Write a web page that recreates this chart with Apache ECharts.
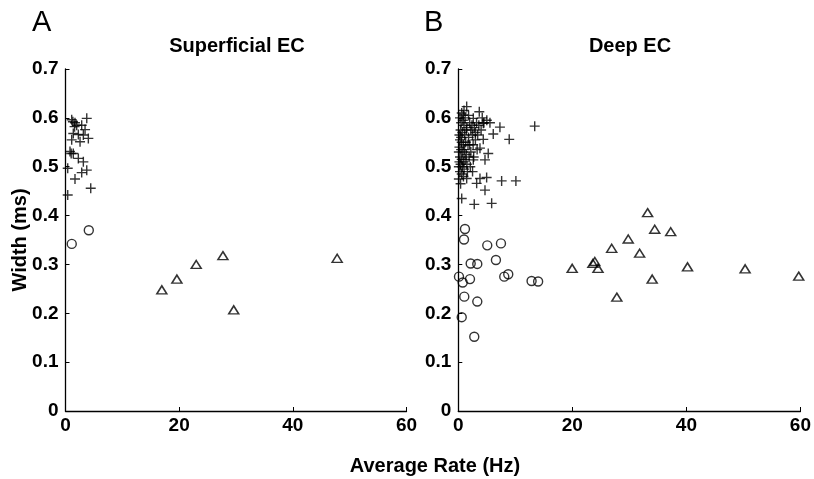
<!DOCTYPE html>
<html><head><meta charset="utf-8">
<script src="https://cdn.jsdelivr.net/npm/echarts@6/dist/echarts.min.js"></script>
<style>html,body{margin:0;padding:0;background:#fff}#c{width:814px;height:479px}</style>
</head><body><div id="c"></div>
<script>
// ---- Data (Average Rate Hz, Width ms) ----
const panelTitles = ['Superficial EC', 'Deep EC'];
const panelLetters = ['A', 'B'];
const xTicks = [0, 20, 40, 60];
const yTicks = [0, 0.1, 0.2, 0.3, 0.4, 0.5, 0.6, 0.7];

const supCross = [[3.74,0.599],[1.09,0.596],[1.67,0.590],[1.97,0.585],[2.85,0.585],[3.44,0.576],[1.37,0.568],[2.26,0.566],[3.14,0.565],[4.02,0.558],[1.09,0.555],[2.56,0.551],[0.79,0.531],[1.37,0.527],[2.26,0.517],[3.14,0.510],[0.39,0.497],[3.74,0.493],[2.85,0.488],[1.67,0.475],[4.44,0.456],[0.39,0.442],[1.3,0.592],[1.6,0.582],[1.0,0.527]];
const supCircle = [[1.1,0.342],[4.1,0.370]];
const supTri = [[16.95,0.248],[19.6,0.270],[23.0,0.300],[27.7,0.318],[29.6,0.207],[47.8,0.3125]];

const deepCross = [[1.47,0.623],[3.68,0.6125],[0.88,0.606],[2.63,0.599],[4.38,0.589],[5.55,0.590],[7.3,0.581],[6.13,0.567],[8.93,0.556],[4.38,0.556],[3.8,0.538],[5.25,0.527],[4.68,0.514],[2.63,0.514],[1.47,0.476],[3.8,0.476],[4.97,0.478],[7.6,0.471],[10.1,0.471],[3.22,0.466],[4.68,0.452],[0.6,0.435],[2.8,0.423],[5.85,0.425],[13.4,0.583],
[0.3,0.60],[0.5,0.59],[0.8,0.595],[1.0,0.585],[1.2,0.60],[0.4,0.575],[0.7,0.57],[1.1,0.565],[1.5,0.58],[2.0,0.59],[2.4,0.585],[2.8,0.58],[3.2,0.59],[3.6,0.585],[3.0,0.57],[2.5,0.565],[1.8,0.56],[0.3,0.555],[0.6,0.55],[0.9,0.545],[1.3,0.55],[1.7,0.545],[0.2,0.54],[0.5,0.535],[0.8,0.53],[1.1,0.535],[1.4,0.525],[0.3,0.52],[0.6,0.515],[0.9,0.51],[1.2,0.515],[0.4,0.505],[0.7,0.50],[1.0,0.495],[0.3,0.49],[0.6,0.485],[0.9,0.48],[1.5,0.505],[1.9,0.52],[2.2,0.53],[2.6,0.545],[3.0,0.555],[3.4,0.565],[4.0,0.575],[2.1,0.50],[2.5,0.49],[1.6,0.49],[0.2,0.565],[0.5,0.56],[1.4,0.575],[2.2,0.575],[4.5,0.59],[5.0,0.595],[4.2,0.60],[1.8,0.605],[0.6,0.61],[1.0,0.615],[0.2,0.51],[0.4,0.465],[2.0,0.545],[2.7,0.52],[3.3,0.535],[0.1,0.53],[0.1,0.50],[0.1,0.475]];
const deepCircle = [[1.17,0.3725],[1.0,0.351],[5.08,0.339],[7.48,0.343],[6.6,0.309],[2.17,0.302],[3.33,0.301],[0.12,0.275],[0.77,0.263],[2.05,0.270],[8.06,0.275],[8.76,0.280],[12.85,0.266],[14.0,0.265],[1.05,0.234],[3.33,0.224],[0.6,0.192],[2.8,0.152]];
const deepTri = [[33.2,0.406],[34.45,0.372],[37.25,0.367],[29.8,0.352],[26.9,0.333],[31.8,0.323],[23.94,0.306],[24.5,0.292],[23.6,0.302],[19.97,0.292],[40.2,0.295],[50.3,0.291],[59.7,0.276],[34.0,0.270],[27.8,0.233]];

const FONT = '"Liberation Sans", Arial, Helvetica, sans-serif';
const crossPath = 'path://M5,0L5,10M0,5L10,5';
const grids = [
  {left: 65.5, top: 69, width: 341, height: 342},
  {left: 458.3, top: 69, width: 342.7, height: 342}
];
function xAx(i){return {gridIndex:i,type:'value',min:0,max:60,interval:20,
  axisLine:{show:true,lineStyle:{color:'#000',width:1.3}},
  axisTick:{show:true,inside:true,length:4,lineStyle:{color:'#000',width:1}},
  axisLabel:{color:'#000',fontFamily:FONT,fontWeight:'bold',fontSize:19,margin:5,
    formatter:v=>xTicks.includes(v)?String(v):''},
  splitLine:{show:false}};}
function yAx(i){return {gridIndex:i,type:'value',min:0,max:0.7,interval:0.1,
  axisLine:{show:true,onZero:false,lineStyle:{color:'#000',width:1.3}},
  axisTick:{show:true,inside:true,length:4,lineStyle:{color:'#000',width:1}},
  axisLabel:{color:'#000',fontFamily:FONT,fontWeight:'bold',fontSize:19,margin:7,
    formatter:v=>{const t=yTicks.find(k=>Math.abs(k-v)<1e-9);return t===undefined?'':(t===0?'0':t.toFixed(1));}},
  splitLine:{show:false}};}
function sc(i,data,kind){
  const base={type:'scatter',xAxisIndex:i,yAxisIndex:i,data:data,silent:true,animation:false};
  if(kind==='cross') return Object.assign(base,{symbol:crossPath,symbolSize:10,
    itemStyle:{color:'rgba(0,0,0,0)',borderColor:'#000',borderWidth:1.4}});
  if(kind==='circle') return Object.assign(base,{symbol:'circle',symbolSize:9,
    itemStyle:{color:'rgba(0,0,0,0)',borderColor:'#000',borderWidth:1.4}});
  return Object.assign(base,{symbol:'triangle',symbolSize:[10,8],
    itemStyle:{color:'rgba(0,0,0,0)',borderColor:'#000',borderWidth:1.5}});
}
const chart = echarts.init(document.getElementById('c'),null,{renderer:'canvas'});
chart.setOption({
  backgroundColor:'#fff',
  animation:false,
  grid:grids,
  xAxis:[xAx(0),xAx(1)],
  yAxis:[yAx(0),yAx(1)],
  series:[sc(0,supCross,'cross'),sc(0,supCircle,'circle'),sc(0,supTri,'tri'),
          sc(1,deepCross,'cross'),sc(1,deepCircle,'circle'),sc(1,deepTri,'tri')],
  graphic:[
    {type:'text',x:32,y:23,style:{text:panelLetters[0],font:'29px '+FONT,fill:'#000',align:'left',verticalAlign:'middle'}},
    {type:'text',x:424,y:23,style:{text:panelLetters[1],font:'29px '+FONT,fill:'#000',align:'left',verticalAlign:'middle'}},
    {type:'text',x:237,y:46,style:{text:panelTitles[0],font:'bold 20px '+FONT,fill:'#000',align:'center',verticalAlign:'middle'}},
    {type:'text',x:630,y:46,style:{text:panelTitles[1],font:'bold 20px '+FONT,fill:'#000',align:'center',verticalAlign:'middle'}},
    {type:'text',x:435,y:466,style:{text:'Average Rate (Hz)',font:'bold 20px '+FONT,fill:'#000',align:'center',verticalAlign:'middle'}},
    {type:'text',x:20,y:240,rotation:Math.PI/2,style:{text:'Width (ms)',font:'bold 20px '+FONT,fill:'#000',align:'center',verticalAlign:'middle'}}
  ]
});
</script></body></html>
